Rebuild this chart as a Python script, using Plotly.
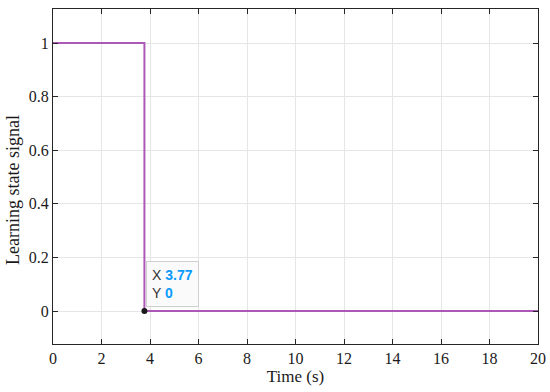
import plotly.graph_objects as go

time_s = [0, 3.77, 3.77, 20]
signal = [1, 1, 0, 0]
tip_x = 3.77
tip_y = 0
x_ticks = [0, 2, 4, 6, 8, 10, 12, 14, 16, 18, 20]
y_ticks = [0, 0.2, 0.4, 0.6, 0.8, 1]
y_tick_text = ["0", "0.2", "0.4", "0.6", "0.8", "1"]

SERIF = "Liberation Serif"

fig = go.Figure()
fig.add_trace(go.Scatter(x=time_s, y=signal, mode="lines",
                         line=dict(color="#ac58b6", width=2), showlegend=False))
fig.add_trace(go.Scatter(x=[tip_x], y=[tip_y], mode="markers",
                         marker=dict(color="#1a1a1a", size=6), showlegend=False))

fig.add_annotation(x=tip_x, y=tip_y, xref="x", yref="y", showarrow=False,
                   xanchor="left", yanchor="bottom", xshift=2, yshift=4,
                   align="left",
                   text="X <b><span style='color:#0a9bff'>3.77</span></b><br>Y <b><span style='color:#0a9bff'>0</span></b>",
                   font=dict(family="Liberation Sans", size=14, color="#333333"),
                   bgcolor="rgba(250,250,250,0.95)", bordercolor="#d0d0d0",
                   borderwidth=1, borderpad=5)

# y-axis title placed as rotated annotation
fig.add_annotation(x=-0.0825, y=0.46, xref="paper", yref="paper", showarrow=False,
                   text="Learning state signal", textangle=-90,
                   xanchor="center", yanchor="middle",
                   font=dict(family=SERIF, size=18, color="#1a1a1a"))

fig.update_xaxes(range=[0, 20], tickmode="array", tickvals=x_ticks,
                 showgrid=True, gridcolor="#e6e6e6", gridwidth=1,
                 showline=True, linecolor="#262626", linewidth=1,
                 mirror="ticks", ticks="inside", ticklen=5, tickcolor="#262626",
                 zeroline=False, automargin=False,
                 tickfont=dict(family=SERIF, size=16, color="#1a1a1a"),
                 title=dict(text="Time (s)", standoff=2,
                            font=dict(family=SERIF, size=17, color="#1a1a1a")))
fig.update_yaxes(range=[-0.123, 1.127], tickmode="array", tickvals=y_ticks,
                 ticktext=y_tick_text,
                 showgrid=True, gridcolor="#e6e6e6", gridwidth=1,
                 showline=True, linecolor="#262626", linewidth=1,
                 mirror="ticks", ticks="inside", ticklen=5, tickcolor="#262626",
                 zeroline=False, automargin=False,
                 tickfont=dict(family=SERIF, size=16, color="#1a1a1a"))

fig.update_layout(width=550, height=392, autosize=False,
                  margin=dict(l=53, r=12, t=9, b=48, autoexpand=False),
                  font=dict(family=SERIF, size=16, color="#1a1a1a"),
                  plot_bgcolor="white", paper_bgcolor="white")

fig.write_html("out.html", config={"displayModeBar": False},
               post_script="document.body.style.margin='0';")
